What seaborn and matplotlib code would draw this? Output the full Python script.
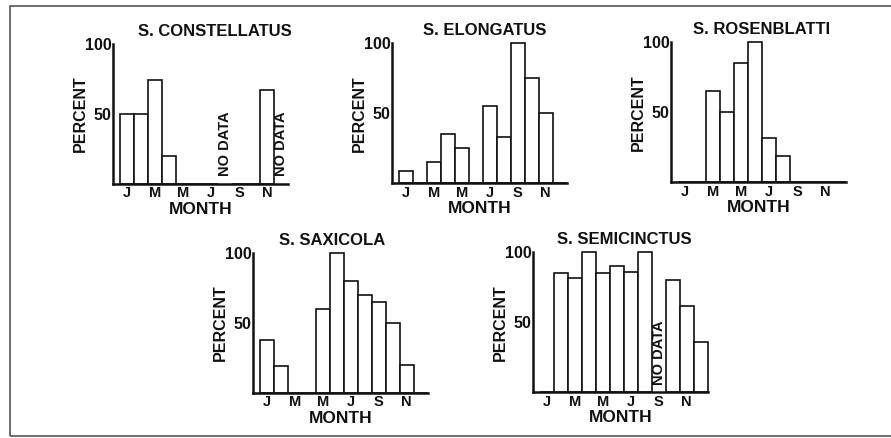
import numpy as np
import pandas as pd
import matplotlib
matplotlib.use("Agg")
import matplotlib.pyplot as plt
from matplotlib.patches import Rectangle
import seaborn as sns

# Monthly occurrence (percent); NaN marks months with no data
month_index = list(range(12))
tick_months = [0, 2, 4, 6, 8, 10]
tick_labels = ["J", "M", "M", "J", "S", "N"]

constellatus = [50, 50, 74, 20, 0, 0, 0, np.nan, 0, 0, 67, np.nan]
elongatus = [9, 0, 15, 35, 25, 0, 55, 33, 100, 75, 50, 0]
rosenblatti = [0, 0, 65, 50, 85, 100, 32, 19, 0, 0, 0, 0]
saxicola = [38, 19, 0, 0, 60, 100, 80, 70, 65, 50, 20, 0]
semicinctus = [0, 85, 82, 100, 85, 90, 86, 100, np.nan, 80, 62, 36]

species = ["S. CONSTELLATUS", "S. ELONGATUS", "S. ROSENBLATTI",
           "S. SAXICOLA", "S. SEMICINCTUS"]
series = [constellatus, elongatus, rosenblatti, saxicola, semicinctus]

# Panel placement in pixels: y-axis x, baseline y, title centre x
W, H = 891, 438
layout = [
    (113.0, 183.5, 215.0),
    (391.7, 183.3, 485.0),
    (671.0, 182.3, 761.7),
    (252.7, 392.7, 331.7),
    (532.7, 392.3, 624.0),
]
AX_W, AX_H = 175.0, 140.0

sns.set_theme(style="white")
plt.rcParams["font.family"] = ["Liberation Sans", "DejaVu Sans"]
plt.rcParams["font.weight"] = "bold"
ink = "#111111"

fig = plt.figure(figsize=(W / 100, H / 100), dpi=100)
fig.patch.set_facecolor("white")

for name, vals, (x0, base, tx) in zip(species, series, layout):
    ax = fig.add_axes([x0 / W, (H - base) / H, AX_W / W, AX_H / H])
    df = pd.DataFrame({"month": month_index, "pct": vals})
    shown = df.dropna()
    sns.barplot(data=shown, x="month", y="pct", order=month_index,
                color="white", edgecolor=ink, linewidth=1.2, width=1.0,
                saturation=1, errorbar=None, ax=ax)
    for p in ax.patches:
        p.set_facecolor("white")
        p.set_clip_on(False)
    for m in df.loc[df["pct"].isna(), "month"]:
        ax.text(m, 5, "NO DATA", rotation=90, ha="center", va="bottom",
                fontsize=10.5, fontweight="bold", color=ink)

    ax.set_xlim(-1.0, 11.5)
    ax.set_ylim(0, 100)
    ax.set_xticks(tick_months)
    ax.set_xticklabels(tick_labels, fontsize=10.5, fontweight="bold", color=ink)
    ax.set_yticks([50, 100])
    ax.set_yticklabels(["50", "100"], fontsize=11.5, fontweight="bold", color=ink)
    ax.tick_params(axis="x", length=0, pad=2.0)
    ax.tick_params(axis="y", length=0, pad=1.0)
    for side in ("top", "right"):
        ax.spines[side].set_visible(False)
    for side in ("left", "bottom"):
        ax.spines[side].set_linewidth(1.8)
        ax.spines[side].set_color(ink)
    ax.set_facecolor("none")

    ax.set_xlabel("MONTH", fontsize=12.5, fontweight="bold", color=ink)
    ax.xaxis.set_label_coords(0.5, -18 / AX_H)
    ax.set_ylabel("PERCENT", fontsize=11.5, fontweight="bold", color=ink)
    ax.yaxis.set_label_coords(-25 / AX_W, 0.5)

    ax.text((tx - x0) / AX_W, 1 + 12.5 / AX_H, name, transform=ax.transAxes,
            ha="center", va="center", fontsize=12, fontweight="bold", color=ink)

# Outer frame of the figure
fig.patches.append(Rectangle((10 / W, 2 / H), 1.0, (436 - 6) / H,
                             transform=fig.transFigure, fill=False,
                             edgecolor="#555555", linewidth=1.2))

fig.savefig("out.png", dpi=100, facecolor="white")
